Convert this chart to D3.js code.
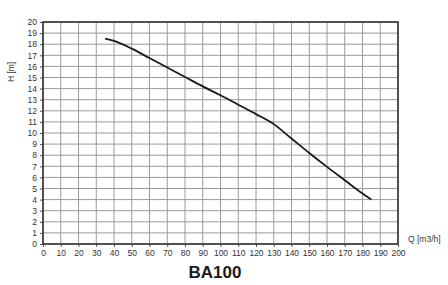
<!DOCTYPE html>
<html>
<head>
<meta charset="utf-8">
<script src="https://cdn.jsdelivr.net/npm/d3@7"></script>
<style>
  body { margin: 0; background: #fff; }
  svg { display: block; }
</style>
</head>
<body>
<svg id="chart" width="448" height="285"></svg>
<script>
// pump curve BA100
let flow = [35, 40, 50, 60, 70, 80, 90, 100, 110, 120, 130, 140, 150, 160, 170, 180, 185];
let head = [18.5, 18.3, 17.6, 16.75, 15.9, 15.05, 14.2, 13.4, 12.55, 11.7, 10.8, 9.5, 8.2, 6.95, 5.75, 4.55, 4.0];
let xTicks = d3.range(0, 201, 10);
let yTicks = d3.range(0, 21, 1);

let svg = d3.select("#chart");
let plotLeft = 43, plotRight = 398, plotTop = 22, plotBottom = 244;
let font = "Liberation Sans, Arial, sans-serif";

let x = d3.scaleLinear().domain([0, 200]).range([plotLeft, plotRight]);
let y = d3.scaleLinear().domain([0, 20]).range([plotBottom, plotTop]);

// grid
svg.append("g").selectAll("line").data(xTicks).join("line")
    .attr("x1", d => x(d)).attr("x2", d => x(d))
    .attr("y1", plotTop).attr("y2", plotBottom)
    .attr("stroke", "#9a9a9a").attr("stroke-width", 1);
svg.append("g").selectAll("line").data(yTicks).join("line")
    .attr("x1", plotLeft).attr("x2", plotRight)
    .attr("y1", d => y(d)).attr("y2", d => y(d))
    .attr("stroke", "#9a9a9a").attr("stroke-width", 1);

// axes
svg.append("g")
    .attr("transform", "translate(0," + plotBottom + ")")
    .call(d3.axisBottom(x).tickValues(xTicks).tickSize(3).tickPadding(3))
    .style("font-family", font)
    .style("font-size", "8.5px")
    .call(g => g.select(".domain").remove())
    .call(g => g.selectAll("line").attr("stroke", "#555"))
    .call(g => g.selectAll("text").attr("fill", "#333"));
svg.append("g")
    .attr("transform", "translate(" + plotLeft + ",0)")
    .call(d3.axisLeft(y).tickValues(yTicks).tickSize(3).tickPadding(3))
    .style("font-family", font)
    .style("font-size", "8.5px")
    .call(g => g.select(".domain").remove())
    .call(g => g.selectAll("line").attr("stroke", "#555"))
    .call(g => g.selectAll("text").attr("fill", "#333"));

// frame
svg.append("rect")
    .attr("x", plotLeft).attr("y", plotTop)
    .attr("width", plotRight - plotLeft).attr("height", plotBottom - plotTop)
    .attr("fill", "none").attr("stroke", "#333").attr("stroke-width", 1.6);

// curve
svg.append("path")
    .datum(flow.map((q, i) => ({q: q, h: head[i]})))
    .attr("fill", "none")
    .attr("stroke", "#1a1a1a")
    .attr("stroke-width", 1.8)
    .attr("d", d3.line()
        .x(d => x(d.q))
        .y(d => y(d.h))
        .curve(d3.curveMonotoneX));

// labels
svg.append("text")
    .attr("transform", "translate(14," + y(15.5) + ") rotate(-90)")
    .attr("text-anchor", "middle")
    .style("font-family", font).style("font-size", "8.5px").attr("fill", "#333")
    .text("H [m]");
svg.append("text")
    .attr("x", 408).attr("y", 242)
    .style("font-family", font).style("font-size", "8.5px").attr("fill", "#333")
    .text("Q [m3/h]");
svg.append("text")
    .attr("x", 215).attr("y", 278)
    .attr("text-anchor", "middle")
    .style("font-family", font).style("font-size", "17px").style("font-weight", "bold")
    .attr("fill", "#1a1a1a")
    .text("BA100");
</script>
</body>
</html>
